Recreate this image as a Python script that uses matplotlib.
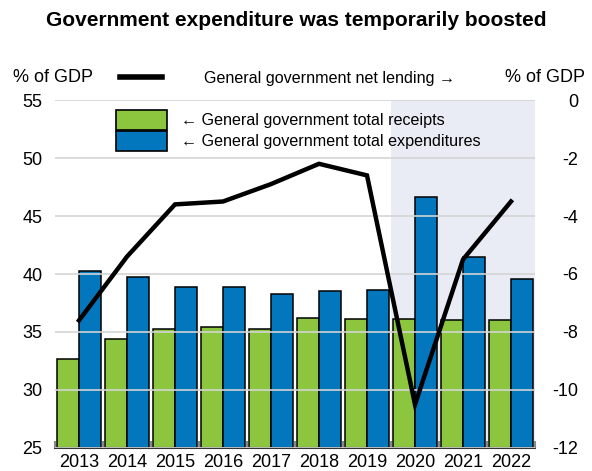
import numpy as np
import matplotlib
matplotlib.use("Agg")
import matplotlib.pyplot as plt
from matplotlib.patches import Patch
from matplotlib.lines import Line2D

plt.rcParams['font.family'] = ['Liberation Sans', 'DejaVu Sans']
plt.rcParams['axes.unicode_minus'] = False

# ------------------------------------------------------------------
# data (% of GDP)
# ------------------------------------------------------------------
years = ['2013', '2014', '2015', '2016', '2017', '2018', '2019', '2020', '2021', '2022']
receipts = [32.7, 34.4, 35.3, 35.4, 35.3, 36.2, 36.1, 36.1, 36.0, 36.0]
expenditures = [40.3, 39.7, 38.9, 38.9, 38.3, 38.5, 38.6, 46.6, 41.5, 39.6]
net_lending = [-7.6, -5.4, -3.6, -3.5, -2.9, -2.2, -2.6, -10.5, -5.5, -3.5]
projection_start = '2020'

GREEN = '#8cc63f'
BLUE = '#0277bd'
SHADE = '#e9ecf5'
GRID = '#d4d4d4'

W, H = 592, 471
fig = plt.figure(figsize=(W / 100, H / 100), dpi=100)
ax = fig.add_axes([55 / W, 1 - 448 / H, 480 / W, 348 / H])

x = np.arange(len(years))
bw = 0.46

# shaded projection period
i0 = years.index(projection_start)
ax.axvspan(i0 - 0.5, len(years) - 0.5, color=SHADE, lw=0, zorder=0)

ax.bar(x - bw / 2, receipts, bw, color=GREEN, edgecolor='black', lw=1.1, zorder=1)
ax.bar(x + bw / 2, expenditures, bw, color=BLUE, edgecolor='black', lw=1.1, zorder=1)

ax.set_xlim(-0.5, len(years) - 0.5)
ax.set_ylim(25, 55)
ax.set_yticks(np.arange(25, 56, 5))
ax.set_axisbelow(False)
ax.yaxis.grid(True, color=GRID, lw=1.2, zorder=2.5)
ax.tick_params(axis='y', length=0, labelsize=13, pad=9)
ax.set_xticks(x)
ax.set_xticklabels(years)
ax.tick_params(axis='x', length=0, labelsize=13, pad=4)
ax.set_xticks(np.arange(-0.5, len(years), 1), minor=True)
ax.tick_params(axis='x', which='minor', direction='in', length=5, color='#888888', width=1.5)
for s in ['top', 'left', 'right']:
    ax.spines[s].set_visible(False)
ax.spines['bottom'].set_color('#333333')
ax.spines['bottom'].set_linewidth(1.5)

# net lending on right axis
ax2 = ax.twinx()
ax2.plot(x, net_lending, color='black', lw=3.2, solid_joinstyle='miter', zorder=3)
ax2.set_ylim(-12, 0)
ax2.set_yticks(np.arange(-12, 1, 2))
ax2.tick_params(axis='y', length=0, labelsize=13, pad=31)
for lab in ax2.get_yticklabels():
    lab.set_horizontalalignment('right')
for s in ['top', 'left', 'right', 'bottom']:
    ax2.spines[s].set_visible(False)

# titles / unit labels
fig.text(0.5, 1 - 21 / H, 'Government expenditure was temporarily boosted',
         ha='center', va='center', fontsize=15, fontweight='bold')
fig.text(13 / W, 1 - 78 / H, '% of GDP', ha='left', va='center', fontsize=13)
fig.text(585 / W, 1 - 78 / H, '% of GDP', ha='right', va='center', fontsize=13)

# legends
fig.legend([Line2D([], [], color='black', lw=4)], ['General government net lending →'],
           loc='center left', bbox_to_anchor=(120 / W, 1 - 78 / H),
           frameon=False, fontsize=11.6, borderpad=0, borderaxespad=0,
           handlelength=2.6, handletextpad=2.6)
fig.legend([Patch(facecolor=GREEN, edgecolor='black', lw=1.2),
            Patch(facecolor=BLUE, edgecolor='black', lw=1.2)],
           ['← General government total receipts', '← General government total expenditures'],
           loc='center left', bbox_to_anchor=(116 / W, 1 - 130.5 / H),
           frameon=False, fontsize=11.6, borderpad=0, borderaxespad=0,
           handlelength=3.15, handleheight=1.55, labelspacing=0.07, handletextpad=0.9)

fig.savefig('out.png', dpi=100)
